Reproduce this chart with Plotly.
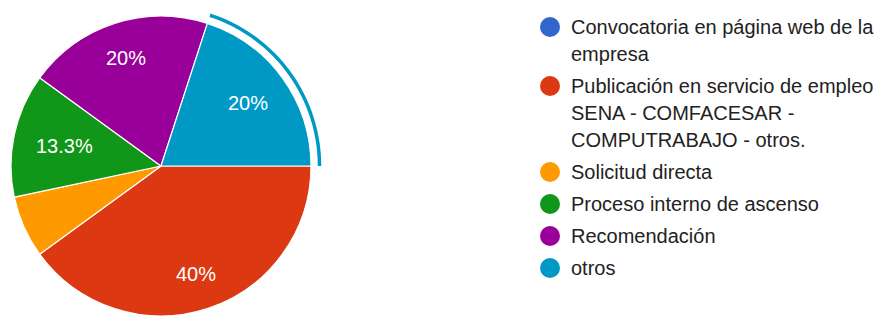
import math
import plotly.graph_objects as go

# ---- data ----
categories = [
    "Convocatoria en página web de la empresa",
    "Publicación en servicio de empleo SENA - COMFACESAR - COMPUTRABAJO - otros.",
    "Solicitud directa",
    "Proceso interno de ascenso",
    "Recomendación",
    "otros",
]
legend_lines = [
    ["Convocatoria en página web de la", "empresa"],
    ["Publicación en servicio de empleo", "SENA - COMFACESAR -", "COMPUTRABAJO - otros."],
    ["Solicitud directa"],
    ["Proceso interno de ascenso"],
    ["Recomendación"],
    ["otros"],
]
counts = [0, 6, 1, 2, 3, 3]
colors = ["#3366cc", "#dc3912", "#ff9900", "#109618", "#990099", "#0099c6"]
highlighted = "otros"

# ---- layout geometry (pixels) ----
W, H = 882, 316
cx, cy, R = 161, 166, 150
start_angle = 90  # first slice starts at 3 o'clock, clockwise
FONT = "Arial, Liberation Sans, sans-serif"
LABEL_SIZE = 20
CHAR_W = {".": 0.278, "%": 0.889}

total = sum(counts)

fig = go.Figure()

fig.add_trace(go.Pie(
    labels=categories,
    values=counts,
    marker=dict(colors=colors, line=dict(color="white", width=1.2)),
    sort=False,
    direction="clockwise",
    rotation=start_angle,
    textinfo="none",
    showlegend=False,
    domain=dict(x=[(cx - R) / W, (cx + R) / W], y=[1 - (cy + R) / H, 1 - (cy - R) / H]),
    hoverinfo="label+percent",
))

annotations = []
shapes = []

# slice labels & highlight arc
acc = 0
for cat, v in zip(categories, counts):
    a0 = start_angle + 360 * acc / total
    a1 = start_angle + 360 * (acc + v) / total
    acc += v
    frac = v / total
    if frac >= 0.1:
        mid = math.radians((a0 + a1) / 2)
        pct = round(frac * 100, 1)
        txt = (f"{pct:.1f}".rstrip("0").rstrip(".")) + "%"
        # place label so that its outer corner sits at 0.85 R
        tw = sum(CHAR_W.get(ch, 0.556) for ch in txt) * LABEL_SIZE
        th = 0.716 * LABEL_SIZE
        ux, uy = math.sin(mid), -math.cos(mid)
        c_x = math.copysign(tw / 2, ux)
        c_y = math.copysign(th / 2, uy)
        uc = ux * c_x + uy * c_y
        rho = 0.85 * R
        d = -uc + math.sqrt(uc * uc - (c_x ** 2 + c_y ** 2) + rho ** 2)
        annotations.append(dict(
            x=cx + d * ux, y=cy + d * uy, xref="x", yref="y",
            text=txt, showarrow=False, font=dict(family=FONT, size=LABEL_SIZE, color="white"),
            xanchor="center", yanchor="middle",
        ))
    if cat == highlighted and v > 0:
        ra = R + 8.5
        n = 60
        pts = []
        for i in range(n + 1):
            a = math.radians(a0 + (a1 - a0) * i / n)
            pts.append((cx + ra * math.sin(a), cy - ra * math.cos(a)))
        path = "M " + " L ".join(f"{x:.2f},{y:.2f}" for x, y in pts)
        shapes.append(dict(type="path", path=path, xref="x", yref="y",
                           line=dict(color=colors[categories.index(cat)], width=3.5)))

# custom legend
lx_marker, lx_text = 550, 569
y = 27
line_h, item_gap = 27, 32
marker_y = []
for lines in legend_lines:
    marker_y.append(y)
    for j, ln in enumerate(lines):
        annotations.append(dict(
            x=lx_text, y=y + j * line_h, xref="x", yref="y", text=ln, showarrow=False,
            font=dict(family=FONT, size=20, color="#222222"),
            xanchor="left", yanchor="middle",
        ))
    y += (len(lines) - 1) * line_h + item_gap

fig.add_trace(go.Scatter(
    x=[lx_marker] * len(categories), y=marker_y, mode="markers",
    marker=dict(size=20, color=colors, line=dict(width=0)),
    hoverinfo="skip", showlegend=False,
))

fig.update_layout(
    width=W, height=H,
    margin=dict(l=0, r=0, t=0, b=0),
    paper_bgcolor="white", plot_bgcolor="white",
    xaxis=dict(range=[0, W], visible=False, fixedrange=True),
    yaxis=dict(range=[H, 0], visible=False, fixedrange=True),
    annotations=annotations,
    shapes=shapes,
    showlegend=False,
)

fig.write_html(
    "out.html",
    config={"displayModeBar": False},
    post_script="document.body.style.margin='0';document.body.style.overflow='hidden';",
)
